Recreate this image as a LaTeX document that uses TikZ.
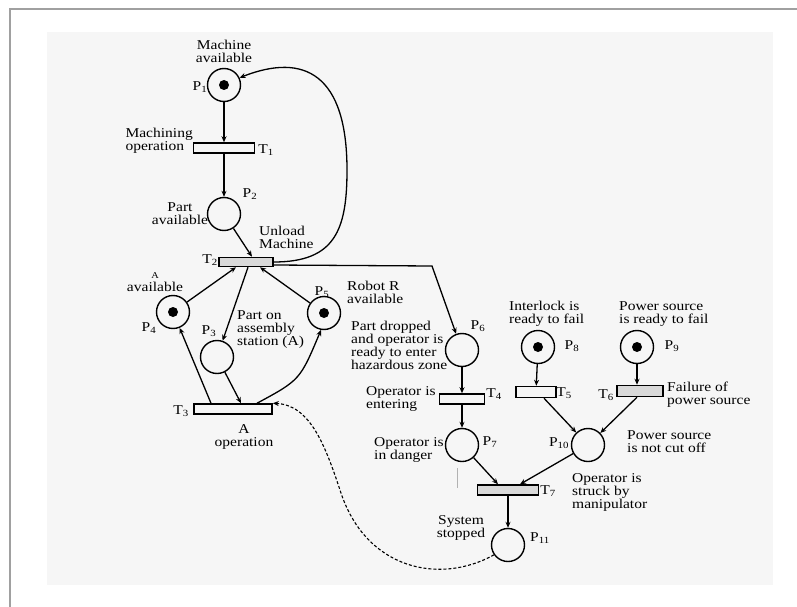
\documentclass[tikz,border=0pt]{standalone}
\usepackage{fontspec}
\setmainfont[FakeStretch=1.15]{Liberation Serif}
\usetikzlibrary{arrows.meta}
\definecolor{framegray}{HTML}{A0A0A0}
\definecolor{scan}{HTML}{F6F6F6}
\begin{document}
\begin{tikzpicture}[x=1pt,y=-1pt,
  place/.style={circle, draw, line width=1.4pt, minimum size=33pt, inner sep=0pt},
  trans/.style={rectangle, draw, line width=1.5pt, inner sep=0pt},
  graytrans/.style={trans, fill=gray!30},
  arr/.style={-{Stealth[length=6pt,width=5pt]}, line width=1.3pt},
  dasharr/.style={-{Stealth[length=6pt,width=5pt]}, line width=1.1pt, dash pattern=on 3pt off 2pt},
  lbl/.style={font=\fontsize{13.5}{13}\selectfont, inner sep=0pt},
  pl/.style={font=\fontsize{13.5}{13}\selectfont, inner sep=0pt}
]
\useasboundingbox (0,0) rectangle (797,607);
\fill[scan] (47,32) rectangle (773,585);
\draw[framegray, line width=2pt] (10,607) -- (10,9) -- (797,9);

% places
\node[place] (P1) at (224,85) {};
\node[place] (P2) at (224,214) {};
\node[place] (P3) at (217,357) {};
\node[place] (P4) at (173,312) {};
\node[place] (P5) at (324,313) {};
\node[place] (P6) at (462,350) {};
\node[place] (P7) at (462,445) {};
\node[place] (P8) at (538,347) {};
\node[place] (P9) at (637,347) {};
\node[place] (P10) at (588,445) {};
\node[place] (P11) at (508,545) {};
\foreach \p in {P1,P4,P5,P8,P9} \fill (\p) circle (5);

% transitions
\node[trans, minimum width=61pt, minimum height=10pt] (T1) at (224,148) {};
\node[graytrans, minimum width=54pt, minimum height=9pt] (T2) at (246,262) {};
\node[trans, minimum width=78pt, minimum height=10pt] (T3) at (233,409) {};
\node[trans, minimum width=45pt, minimum height=10pt] (T4) at (462,399) {};
\node[trans, minimum width=40pt, minimum height=11pt] (T5) at (536,392) {};
\node[graytrans, minimum width=46pt, minimum height=11pt] (T6) at (640,391) {};
\node[graytrans, minimum width=61pt, minimum height=10pt] (T7) at (508,490) {};

% labels
\node[lbl, align=center] (lP1) at (224,51) {Machine\\available};
\node[pl] (nP1) at (200,87) {P\textsubscript{1}};
\node[lbl, align=left, anchor=east] (lT1) at (193,141) {Machining\\operation};
\node[pl] (nT1) at (266,150) {T\textsubscript{1}};
\node[pl] (nP2) at (250,194) {P\textsubscript{2}};
\node[lbl, align=center] (lP2) at (180,214) {Part\\available};
\node[lbl, align=left, anchor=west] (lT2) at (259,237) {Unload\\Machine};
\node[pl] (nT2) at (210,260) {T\textsubscript{2}};
\node[lbl, align=center] (lP4) at (155,282) {{\fontsize{9}{9}\selectfont A}\\available};
\node[pl] (nP4) at (149,328) {P\textsubscript{4}};
\node[pl] (nP3) at (209,331) {P\textsubscript{3}};
\node[lbl, align=left, anchor=west] (lP3) at (237,330) {Part on\\assembly\\station (A)};
\node[pl] (nP5) at (322,292) {P\textsubscript{5}};
\node[lbl, align=left, anchor=west] (lP5) at (347,292) {Robot R\\available};
\node[pl] (nT3) at (181,411) {T\textsubscript{3}};
\node[lbl, align=center] (lT3) at (244,437) {A\\operation};
\node[pl] (nP6) at (478,326) {P\textsubscript{6}};
\node[lbl, align=left, anchor=west] (lP6) at (351,345) {Part dropped\\and operator is\\ready to enter\\hazardous zone};
\node[lbl, align=left, anchor=west] (lP8) at (509,314) {Interlock is\\ready to fail};
\node[pl] (nP8) at (572,346) {P\textsubscript{8}};
\node[lbl, align=left, anchor=west] (lP9) at (619,314) {Power source\\is ready to fail};
\node[pl] (nP9) at (672,346) {P\textsubscript{9}};
\node[lbl, align=left, anchor=west] (lT4) at (366,399) {Operator is\\entering};
\node[pl] (nT4) at (494,394) {T\textsubscript{4}};
\node[pl] (nT5) at (564,393) {T\textsubscript{5}};
\node[pl] (nT6) at (606,395) {T\textsubscript{6}};
\node[lbl, align=left, anchor=west] (lT6) at (667,395) {Failure of\\power source};
\node[lbl, align=left, anchor=west] (lP7) at (374,450) {Operator is\\in danger};
\node[pl] (nP7) at (490,442) {P\textsubscript{7}};
\node[pl] (nP10) at (559,443) {P\textsubscript{10}};
\node[lbl, align=left, anchor=west] (lP10) at (627,442) {Power source\\is not cut off};
\node[pl] (nT7) at (548,491) {T\textsubscript{7}};
\node[lbl, align=left, anchor=west] (lT7) at (572,492) {Operator is\\struck by\\manipulator};
\node[lbl, align=center] (lP11) at (461,528) {System\\stopped};
\node[pl] (nP11) at (540,538) {P\textsubscript{11}};

% coordinates
\coordinate (fb) at (347,170);
\coordinate (c6) at (432,266);
\coordinate (d1) at (340,490);
\coordinate (m1) at (457,468);
\coordinate (m2) at (457,488);

% connectors
\draw[arr] (P1) -- (T1);
\draw[arr] (T1) -- (P2);
\draw[arr] (P2) -- ([xshift=6pt]T2.north);
\draw[arr] (T2.east) .. controls (335,262) and (347,230) .. (fb)
  .. controls (347,75) and (305,52) .. (P1.25);
\draw[arr] ([yshift=-3pt]T2.east) -- (c6) -- (P6.110);
\draw[arr] (P4) -- ([xshift=-10pt]T2.south);
\draw[arr] (P5) -- ([xshift=14pt]T2.south);
\draw[arr] ([xshift=2pt]T2.south) -- (P3);
\draw[arr] ([xshift=-22pt]T3.north) -- (P4);
\draw[arr] (P3) -- ([xshift=8pt]T3.north);
\draw[arr] ([xshift=24pt]T3.north) .. controls (300,380) .. (P5.-100);
\draw[dasharr] (P11.215) .. controls (440,585) and (365,570) .. (d1)
  .. controls (325,445) and (310,405) .. (T3.north east);
\draw[arr] (P6) -- (T4);
\draw[arr] (T4) -- (P7);
\draw[arr] (P8) -- (T5);
\draw[arr] (P9) -- ([xshift=-3pt]T6.north);
\draw[arr] ([xshift=8pt]T5.south) -- (P10);
\draw[arr] ([xshift=-3pt]T6.south) -- (P10);
\draw[arr] (P7) -- ([xshift=-10pt]T7.north);
\draw[arr] (P10) -- ([xshift=12pt]T7.north);
\draw[arr] (T7) -- (P11);
\draw[gray!60, line width=0.6pt] (m1) -- (m2);
\end{tikzpicture}
\end{document}
